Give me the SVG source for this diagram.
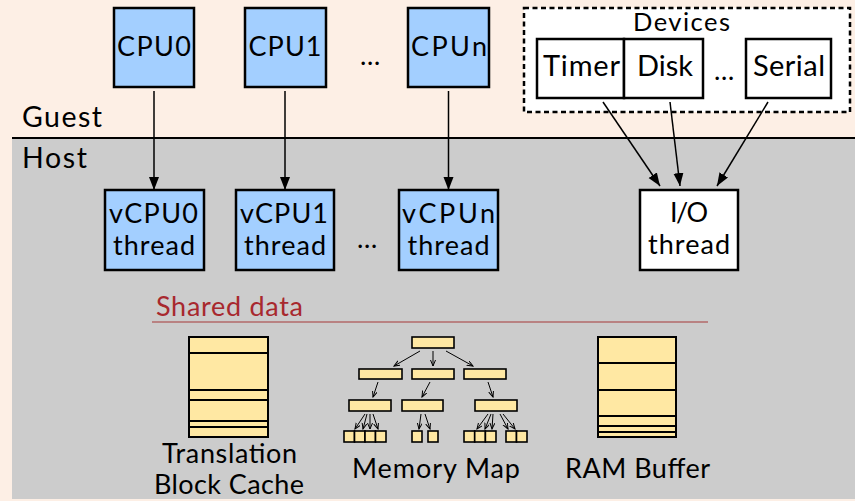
<svg xmlns="http://www.w3.org/2000/svg" width="855" height="501" viewBox="0 0 855 501">
<defs>
<style>
.t{font-family:Lato,"Open Sans","DejaVu Sans",sans-serif;fill:#000}
.big{font-size:27px}
.lbl{font-size:27px}
.cpu{fill:#A3CFFF;stroke:#000;stroke-width:2.5}
.io{fill:#fff;stroke:#000;stroke-width:2.5}
.dev{fill:#fff;stroke:#000;stroke-width:2.5}
.y{fill:#FFE8A3;stroke:#000;stroke-width:2}
.ys{fill:#FFE8A3;stroke:#000;stroke-width:1.6}
.sep{stroke:#000;stroke-width:2}
.arr{stroke:#000;stroke-width:1.5;fill:none;marker-end:url(#ah)}
.sa{stroke:#000;stroke-width:1;fill:none;marker-end:url(#sh)}
</style>
<marker id="ah" markerUnits="userSpaceOnUse" markerWidth="14" markerHeight="12" refX="13" refY="5" orient="auto">
<path d="M0,0 L13,5 L0,10 Z" fill="#000"/>
</marker>
<marker id="sh" markerUnits="userSpaceOnUse" markerWidth="7" markerHeight="6" refX="6" refY="2.5" orient="auto">
<path d="M0,0 L6,2.5 L0,5" fill="none" stroke="#000" stroke-width="1"/>
</marker>
</defs>
<rect x="0" y="0" width="855" height="501" fill="#FDEFE5"/>
<rect x="12" y="138" width="843" height="361" fill="#CCCCCC"/>
<line class="sep" x1="12" y1="138" x2="855" y2="138"/>
<text class="t" font-size="28.5" x="22" y="127" textLength="80" lengthAdjust="spacing">Guest</text>
<text class="t" font-size="28.5" x="22" y="168" textLength="65" lengthAdjust="spacing">Host</text>

<g id="cpu0"><rect class="cpu" x="114" y="8" width="80" height="79"/><text class="t big" x="154" y="56" text-anchor="middle" textLength="74" lengthAdjust="spacing">CPU0</text></g>
<g id="cpu1"><rect class="cpu" x="245" y="8" width="81" height="79"/><text class="t big" x="285" y="56" text-anchor="middle" textLength="73" lengthAdjust="spacing">CPU1</text></g>
<text class="t big" x="370" y="65" text-anchor="middle">…</text>
<g id="cpun"><rect class="cpu" x="408" y="8" width="81" height="79"/><text class="t big" x="449" y="56" text-anchor="middle" textLength="76" lengthAdjust="spacing">CPUn</text></g>

<g id="devices">
<rect x="524" y="8" width="326" height="104" fill="#fff" stroke="#000" stroke-width="2.5" stroke-dasharray="5,3.5"/>
<text class="t" font-size="25.5" x="681.5" y="31" text-anchor="middle" textLength="97" lengthAdjust="spacing">Devices</text>
<g id="timer"><rect class="dev" x="537" y="39" width="87" height="59"/><text class="t" font-size="29" x="581.5" y="76" text-anchor="middle" textLength="77" lengthAdjust="spacing">Timer</text></g>
<g id="disk"><rect class="dev" x="624" y="39" width="79" height="59"/><text class="t" font-size="29" x="665" y="76" text-anchor="middle" textLength="56" lengthAdjust="spacing">Disk</text></g>
<text class="t big" x="724" y="80" text-anchor="middle">…</text>
<g id="serial"><rect class="dev" x="746" y="39" width="85" height="59"/><text class="t" font-size="29" x="789" y="76" text-anchor="middle" textLength="72" lengthAdjust="spacing">Serial</text></g>
</g>

<g id="vcpu0"><rect class="cpu" x="105" y="190" width="99" height="80"/><text class="t big" x="153.5" y="223" text-anchor="middle" textLength="89" lengthAdjust="spacing">vCPU0</text><text class="t big" x="154" y="255" text-anchor="middle" textLength="82" lengthAdjust="spacing">thread</text></g>
<g id="vcpu1"><rect class="cpu" x="236" y="190" width="98" height="80"/><text class="t big" x="284" y="223" text-anchor="middle" textLength="88" lengthAdjust="spacing">vCPU1</text><text class="t big" x="285" y="255" text-anchor="middle" textLength="82" lengthAdjust="spacing">thread</text></g>
<text class="t big" x="367" y="248" text-anchor="middle">…</text>
<g id="vcpun"><rect class="cpu" x="399" y="190" width="99" height="80"/><text class="t big" x="448.5" y="223" text-anchor="middle" textLength="93" lengthAdjust="spacing">vCPUn</text><text class="t big" x="448.5" y="255" text-anchor="middle" textLength="82" lengthAdjust="spacing">thread</text></g>
<g id="iothread"><rect class="io" x="640" y="190" width="98" height="80"/><text class="t big" x="689" y="222" text-anchor="middle" textLength="38" lengthAdjust="spacing">I/O</text><text class="t big" x="689" y="254" text-anchor="middle" textLength="82" lengthAdjust="spacing">thread</text></g>

<g id="connectors">
<line class="arr" x1="154" y1="91" x2="154" y2="190"/>
<line class="arr" x1="285" y1="91" x2="285" y2="190"/>
<line class="arr" x1="448.5" y1="91" x2="448.5" y2="190"/>
<line class="arr" x1="603" y1="102" x2="660" y2="186"/>
<line class="arr" x1="670" y1="102" x2="680" y2="186"/>
<line class="arr" x1="768" y1="102" x2="717" y2="186"/>
</g>

<text class="t" font-size="27" x="156" y="316" textLength="147" lengthAdjust="spacing" style="fill:#A8282E">Shared data</text>
<line x1="152" y1="322" x2="708" y2="322" stroke="#B36A6A" stroke-width="1.5"/>

<g id="tbcache">
<rect class="y" x="189" y="337" width="79" height="100"/>
<path d="M189,353H268M189,390H268M189,400H268M189,421H268M189,427H268" stroke="#000" stroke-width="2" fill="none"/>
<text class="t lbl" x="229.5" y="463" text-anchor="middle" textLength="135" lengthAdjust="spacing">Translation</text>
<text class="t lbl" x="229" y="494" text-anchor="middle" textLength="150" lengthAdjust="spacing">Block Cache</text>
</g>

<g id="memmap">
<rect class="ys" x="412" y="337" width="42" height="11"/>
<rect class="ys" x="359" y="369" width="43" height="10"/>
<rect class="ys" x="412" y="369" width="42" height="10"/>
<rect class="ys" x="464" y="369" width="42" height="10"/>
<rect class="ys" x="349" y="400" width="42" height="11"/>
<rect class="ys" x="402" y="400" width="41" height="11"/>
<rect class="ys" x="475" y="400" width="42" height="11"/>
<rect class="ys" x="344" y="431" width="10.5" height="11"/>
<rect class="ys" x="354.5" y="431" width="10.5" height="11"/>
<rect class="ys" x="365" y="431" width="10.5" height="11"/>
<rect class="ys" x="375.5" y="431" width="10.5" height="11"/>
<rect class="ys" x="412" y="431" width="10" height="11"/>
<rect class="ys" x="428" y="431" width="10" height="11"/>
<rect class="ys" x="464" y="431" width="10.7" height="11"/>
<rect class="ys" x="474.7" y="431" width="10.7" height="11"/>
<rect class="ys" x="485.4" y="431" width="10.6" height="11"/>
<rect class="ys" x="506" y="431" width="10.5" height="11"/>
<rect class="ys" x="516.5" y="431" width="10.5" height="11"/>
<g id="memmap-arrows">
<line class="sa" x1="420" y1="351" x2="394" y2="366"/>
<line class="sa" x1="433" y1="351" x2="433" y2="366"/>
<line class="sa" x1="446" y1="351" x2="473" y2="366"/>
<line class="sa" x1="378" y1="382" x2="373" y2="397"/>
<line class="sa" x1="430" y1="382" x2="422" y2="397"/>
<line class="sa" x1="488" y1="382" x2="493" y2="397"/>
<line class="sa" x1="365" y1="414" x2="355" y2="429"/>
<line class="sa" x1="367" y1="414" x2="363" y2="429"/>
<line class="sa" x1="370" y1="414" x2="370" y2="429"/>
<line class="sa" x1="373" y1="414" x2="378" y2="429"/>
<line class="sa" x1="421" y1="414" x2="419" y2="429"/>
<line class="sa" x1="425" y1="414" x2="430" y2="429"/>
<line class="sa" x1="488" y1="414" x2="477" y2="429"/>
<line class="sa" x1="491" y1="414" x2="485" y2="429"/>
<line class="sa" x1="493" y1="414" x2="492" y2="429"/>
<line class="sa" x1="500" y1="414" x2="508" y2="429"/>
<line class="sa" x1="503" y1="414" x2="515" y2="429"/>
</g>
<text class="t lbl" x="436" y="478" text-anchor="middle" textLength="168" lengthAdjust="spacing">Memory Map</text>
</g>

<g id="rambuffer">
<rect class="y" x="598" y="337" width="78" height="100"/>
<path d="M598,363H676M598,390H676M598,416H676M598,426H676M598,432H676" stroke="#000" stroke-width="2" fill="none"/>
<text class="t lbl" x="637.5" y="478" text-anchor="middle" textLength="145" lengthAdjust="spacing">RAM Buffer</text>
</g>
</svg>
